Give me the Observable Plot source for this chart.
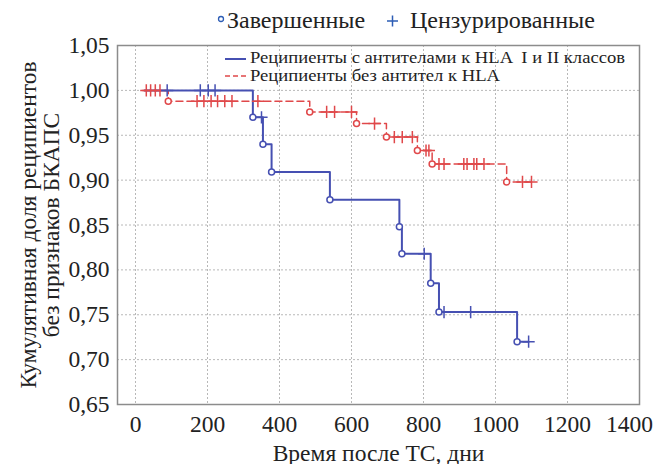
<!DOCTYPE html>
<html>
<head>
<meta charset="utf-8">
<script src="https://cdn.jsdelivr.net/npm/d3@7"></script>
<script src="https://cdn.jsdelivr.net/npm/@observablehq/plot@0.6"></script>
<style>
  html, body { margin:0; padding:0; background:#fff; }
  #wrap { position:relative; width:659px; height:464px; font-family:"Liberation Serif", serif; }
  #topLegend { height:44px; width:659px; position:relative; }
  #inner { position:absolute; left:0; top:0; pointer-events:none; }
</style>
</head>
<body>
<div id="wrap">
  <div id="topLegend"></div>
  <div id="chart"></div>
  <svg id="inner" width="659" height="464"></svg>
</div>
<script>
// ---- data ----
const xTicks = [0, 200, 400, 600, 800, 1000, 1200, 1400];
const yTicks = [0.65, 0.70, 0.75, 0.80, 0.85, 0.90, 0.95, 1.00, 1.05];

const seriesNames = ["Реципиенты с антителами к HLA  I и II классов", "Реципиенты без антител к HLA"];
const legendNames = ["Завершенные", "Цензурированные"];

// Group with antibodies (blue): step times and survival values
const blueTimes = [25, 326, 354, 378, 540, 733, 740, 820, 843, 1060, 1092];
const blueSurv  = [1.000, 0.970, 0.940, 0.909, 0.878, 0.848, 0.818, 0.785, 0.753, 0.720, 0.720];
const blueCensored = [88, 180, 202, 221, 350, 802, 857, 931, 1092];

// Group without antibodies (red)
const redTimes = [20, 91, 484, 614, 697, 783, 824, 1031, 1100];
const redSurv  = [1.000, 0.988, 0.976, 0.963, 0.948, 0.933, 0.918, 0.898, 0.898];
const redCensored = [30, 42, 55, 68, 171, 190, 210, 228, 248, 268, 340, 531, 553, 600, 664, 719, 741, 769, 807, 815, 843, 857, 912, 921, 940, 948, 968, 1075, 1100];

const blueColor = "#4650b2";
const redColor = "#e0484a";

// ---- build tables ----
function steps(times, surv) { return times.map((t, i) => ({t, s: surv[i]})); }
function events(times, surv) {
  const out = [];
  for (let i = 1; i < times.length; i++) if (surv[i] < surv[i - 1]) out.push({t: times[i], s: surv[i]});
  return out;
}
function censored(ct, times, surv) {
  return ct.map(t => {
    let s = surv[0];
    for (let i = 0; i < times.length; i++) if (times[i] <= t) s = surv[i];
    return {t, s};
  });
}
const blueSteps = steps(blueTimes, blueSurv), redSteps = steps(redTimes, redSurv);
const blueEv = events(blueTimes, blueSurv), redEv = events(redTimes, redSurv);
const blueC = censored(blueCensored, blueTimes, blueSurv), redC = censored(redCensored, redTimes, redSurv);

const fmtY = d => d3.format(".2f")(d).replace(".", ",");
const lastX = xTicks[xTicks.length - 1];

const chart = Plot.plot({
  width: 659, height: 420,
  marginTop: 1, marginLeft: 117, marginRight: 20, marginBottom: 60,
  x: {domain: [-50, 1400]},
  y: {domain: [0.65, 1.05]},
  style: {fontFamily: "Liberation Serif", fontSize: "23.5px", color: "#222", background: "white", overflow: "visible"},
  marks: [
    Plot.gridX(xTicks, {stroke: "#b8b8b8", strokeOpacity: 1, strokeDasharray: "2,2"}),
    Plot.gridY(yTicks, {stroke: "#b8b8b8", strokeOpacity: 1, strokeDasharray: "2,2"}),
    Plot.axisX({ticks: xTicks.filter(d => d !== lastX), tickSize: 0, tickPadding: 11, label: null, tickFormat: d => String(d), fill: "#222"}),
    Plot.axisX({ticks: [lastX], tickSize: 0, tickPadding: 11, label: null, tickFormat: d => String(d), fill: "#222", dx: -10}),
    Plot.axisY({ticks: yTicks, tickSize: 0, tickPadding: 8, label: null, tickFormat: fmtY, fill: "#222"}),
    Plot.frame({stroke: "#8c8c8c", strokeWidth: 1.5}),
    Plot.line(redSteps, {x: "t", y: "s", curve: "step-after", stroke: redColor, strokeWidth: 1.5, strokeDasharray: "7,4"}),
    Plot.line(blueSteps, {x: "t", y: "s", curve: "step-after", stroke: blueColor, strokeWidth: 2}),
    Plot.dot(redC, {x: "t", y: "s", symbol: "plus", r: 4, stroke: redColor, strokeWidth: 1.5}),
    Plot.dot(blueC, {x: "t", y: "s", symbol: "plus", r: 4, stroke: blueColor, strokeWidth: 1.5}),
    Plot.dot(redEv, {x: "t", y: "s", r: 3, stroke: redColor, fill: "white", strokeWidth: 1.5}),
    Plot.dot(blueEv, {x: "t", y: "s", r: 3, stroke: blueColor, fill: "white", strokeWidth: 1.5}),
    Plot.text(["Время после ТС, дни"], {frameAnchor: "bottom", dy: 56, lineAnchor: "bottom", textAnchor: "middle", fill: "#222"}),
    Plot.text(["Кумулятивная доля реципиентов"], {frameAnchor: "left", dx: -89, rotate: -90, textAnchor: "middle", fill: "#222"}),
    Plot.text(["без признаков БКАПС"], {frameAnchor: "left", dx: -66, rotate: -90, textAnchor: "middle", fill: "#222"})
  ]
});
document.getElementById("chart").appendChild(chart);

// ---- top legend ----
const tl = d3.select("#topLegend").append("svg").attr("width", 659).attr("height", 44)
  .style("font-family", "Liberation Serif").style("font-size", "24px");
tl.append("circle").attr("cx", 221).attr("cy", 19).attr("r", 2.5).attr("fill", "none").attr("stroke", "#2d5db5").attr("stroke-width", 1.3);
tl.append("text").attr("x", 227).attr("y", 28).attr("fill", "#222").text(legendNames[0]);
tl.append("path").attr("d", "M387,21h11M392.5,15.5v11").attr("stroke", "#2d5db5").attr("stroke-width", 1.5);
tl.append("text").attr("x", 410).attr("y", 28).attr("fill", "#222").text(legendNames[1]);

// ---- inner legend ----
const il = d3.select("#inner").style("font-family", "Liberation Serif").style("font-size", "16px");
il.append("line").attr("x1", 225).attr("x2", 246).attr("y1", 59).attr("y2", 59).attr("stroke", blueColor).attr("stroke-width", 2);
il.append("text").attr("x", 250).attr("y", 63).attr("fill", "#222").style("white-space", "pre")
  .attr("textLength", 375).attr("lengthAdjust", "spacingAndGlyphs").text(seriesNames[0]);
il.append("line").attr("x1", 225).attr("x2", 246).attr("y1", 76).attr("y2", 76).attr("stroke", redColor).attr("stroke-width", 1.5).attr("stroke-dasharray", "5,3");
il.append("text").attr("x", 250).attr("y", 81).attr("fill", "#222")
  .attr("textLength", 250).attr("lengthAdjust", "spacingAndGlyphs").text(seriesNames[1]);
</script>
</body>
</html>
